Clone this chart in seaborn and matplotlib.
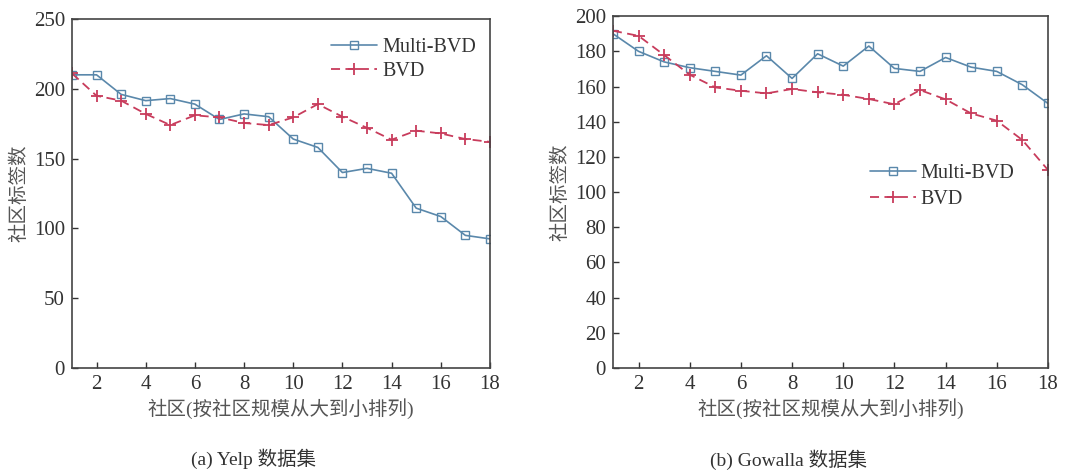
import numpy as np
import pandas as pd
import seaborn as sns
import matplotlib
matplotlib.use("Agg")
import matplotlib.pyplot as plt

communities = list(range(1, 19))
yelp_multi = [210, 210, 196, 191.5, 193, 189, 178, 182, 180, 164, 158, 140, 143, 139.5, 114.5, 108.5, 95, 92.5]
yelp_bvd = [211, 195, 191.5, 182, 174, 181, 179.5, 175.5, 174, 179.5, 189, 180, 172, 163.5, 170, 168, 164, 162]
gowalla_multi = [190, 180, 174, 170.7, 168.6, 166.5, 177.5, 164.6, 178.6, 171.6, 183, 170.3, 168.6, 176.5, 171, 168.6, 161, 150.4]
gowalla_bvd = [191.7, 188.8, 177.9, 166.7, 159.5, 157.6, 156.1, 158.6, 156.7, 155.3, 152.9, 149.9, 158, 152.7, 144.7, 140.6, 129.6, 112.6]
series_names = ["Multi-BVD", "BVD"]
x_ticks = [2, 4, 6, 8, 10, 12, 14, 16, 18]
yelp_yticks = [0, 50, 100, 150, 200, 250]
gowalla_yticks = [0, 20, 40, 60, 80, 100, 120, 140, 160, 180, 200]
xlabel = "社区(按社区规模从大到小排列)"
ylabel = "社区标签数"
captions = ["(a) Yelp 数据集", "(b) Gowalla 数据集"]

sns.set_style("ticks")
plt.rcParams["font.family"] = ["Liberation Serif", "Noto Sans CJK SC"]
plt.rcParams["axes.unicode_minus"] = False

blue = "#5a88ab"
red = "#c83c5c"
text_col = "#333333"

fig = plt.figure(figsize=(10.82, 4.71), dpi=100)
ax1 = fig.add_axes([0.0665, 0.2187, 0.3863, 0.741])
ax2 = fig.add_axes([0.5665, 0.2187, 0.402, 0.747])

def draw(ax, multi, bvd, yticks, ylim, leg_anchor, labelspacing):
    df = pd.DataFrame({"x": communities * 2,
                       "y": multi + bvd,
                       "s": [series_names[0]] * len(multi) + [series_names[1]] * len(bvd)})
    sns.lineplot(data=df[df.s == series_names[0]], x="x", y="y", ax=ax, color=blue,
                 marker="s", markersize=6, markerfacecolor="none", markeredgecolor=blue,
                 markeredgewidth=1.0, linewidth=1.2, label=series_names[0])
    sns.lineplot(data=df[df.s == series_names[1]], x="x", y="y", ax=ax, color=red,
                 marker="+", markersize=9, markeredgecolor=red, markeredgewidth=1.3,
                 linewidth=1.3, label=series_names[1])
    ax.lines[1].set_linestyle((0, (5, 3)))
    ax.set_xlim(1, 18)
    ax.set_ylim(*ylim)
    ax.set_xticks(x_ticks)
    ax.set_yticks(yticks)
    ax.tick_params(direction="in", length=4, width=1, colors=text_col, labelsize=15,
                   top=False, right=False, pad=5)
    for sp in ax.spines.values():
        sp.set_color("#444444")
        sp.set_linewidth(1.2)
        sp.set_visible(True)
    ax.set_xlabel(xlabel, fontsize=14, color="#555555", labelpad=3)
    ax.set_ylabel(ylabel, fontsize=14, color="#555555", labelpad=4)
    leg = ax.legend(loc="upper left", bbox_to_anchor=leg_anchor, frameon=False,
                    fontsize=14.5, handlelength=2.3, handletextpad=0.25,
                    labelspacing=labelspacing, borderpad=0, borderaxespad=0)
    for t in leg.get_texts():
        t.set_color(text_col)

draw(ax1, yelp_multi, yelp_bvd, yelp_yticks, (0, 250), (0.62, 0.945), 0.25)
draw(ax2, gowalla_multi, gowalla_bvd, gowalla_yticks, (0, 200), (0.59, 0.58), 0.35)

fig.text(0.234, 0.025, captions[0], fontsize=14, color=text_col, ha="center", va="center")
fig.text(0.729, 0.023, captions[1], fontsize=14, color=text_col, ha="center", va="center")

fig.savefig("out.png", dpi=100, facecolor="white")
